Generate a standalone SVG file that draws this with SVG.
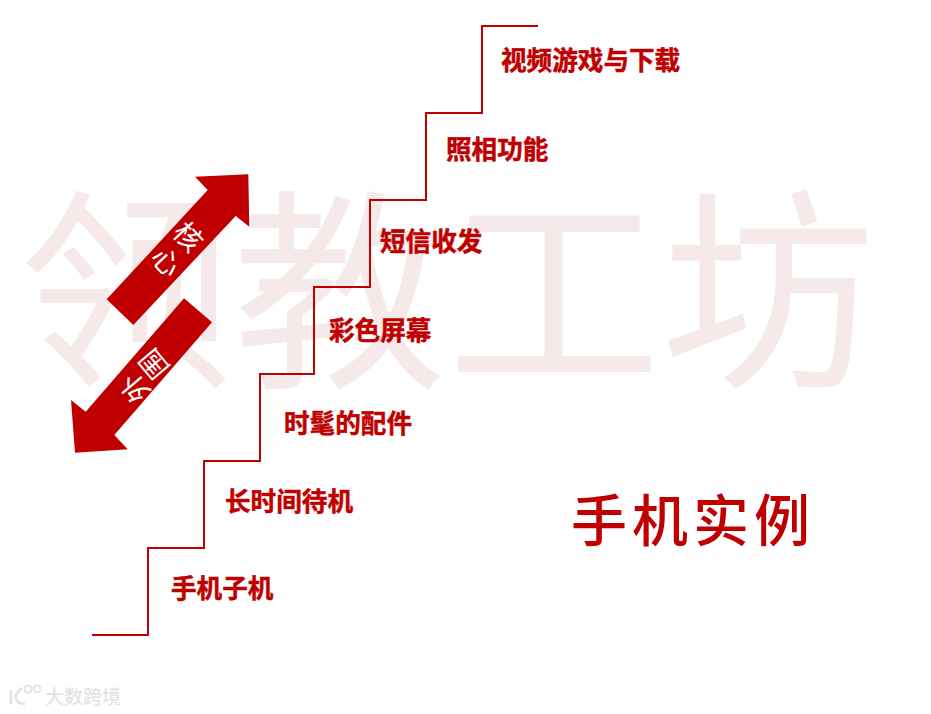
<svg xmlns="http://www.w3.org/2000/svg" width="931" height="714" viewBox="0 0 931 714">
<style>
.wm{font-family:"Noto Sans CJK SC","Noto Sans",sans-serif;font-weight:400;font-size:214px;fill:#f5e9e9}
.st{font-family:"Noto Sans CJK SC","Liberation Sans",sans-serif;font-weight:700;font-size:25.6px;fill:#c00000;stroke:#c00000;stroke-width:.5}
.ar{fill:#c00000}
.at{font-family:"Noto Sans CJK SC","Liberation Sans",sans-serif;font-size:28px;fill:#fff;text-anchor:middle}
.ti{font-family:"Noto Sans CJK SC","Liberation Serif",serif;font-weight:500;font-size:56px;fill:#c00000;letter-spacing:5px}
.lg{font-family:"Noto Sans CJK SC","Liberation Sans",sans-serif;font-weight:500;font-size:19px;fill:#e4e4e4}
</style>
<rect width="931" height="714" fill="#fff"/>
<text class="wm" x="19" y="371">领教工坊</text>
<g id="connectors"><polyline points="92,635 148,635 148,548 204,548 204,461 260,461 260,374 314,374 314,287 370,287 370,200 426,200 426,113 482,113 482,26 538,26" fill="none" stroke="#c00000" stroke-width="2"/></g>
<g id="arrow-core"><polygon class="ar" points="106.7,299.3 133.3,325 235.7,216 249.3,226.7 248.3,174.3 195,176.7 207.7,190"/>
<text class="at" transform="translate(188,237) rotate(47)" y="10">核</text>
<text class="at" transform="translate(166,262) rotate(47)" y="10">心</text></g>
<g id="arrow-outer"><polygon class="ar" points="184,298.3 212,322.3 114.3,435 127.7,449.3 75,452.7 71,400 85.7,411.7"/>
<text class="at" transform="translate(135,388) rotate(230)" y="10">外</text>
<text class="at" transform="translate(154,364) rotate(230)" y="10">围</text></g>
<g id="s1"><text class="st" x="171" y="598">手机子机</text></g>
<g id="s2"><text class="st" x="225" y="511">长时间待机</text></g>
<g id="s3"><text class="st" x="284" y="433">时髦的配件</text></g>
<g id="s4"><text class="st" x="329" y="340">彩色屏幕</text></g>
<g id="s5"><text class="st" x="380" y="251">短信收发</text></g>
<g id="s6"><text class="st" x="446" y="159">照相功能</text></g>
<g id="s7"><text class="st" x="501" y="70">视频游戏与下载</text></g>
<g id="title"><text class="ti" x="571" y="541">手机实例</text></g>
<g id="logo"><text class="lg" x="45" y="704">大数跨境</text>
<path d="M11 690 v14 M22 688 q-8 6 -6 11 q2 5 9 5" fill="none" stroke="#e4e4e4" stroke-width="3"/>
<circle cx="28" cy="689" r="3.5" fill="none" stroke="#e4e4e4" stroke-width="2"/><circle cx="37" cy="689" r="3.5" fill="none" stroke="#e4e4e4" stroke-width="2"/></g>
</svg>
